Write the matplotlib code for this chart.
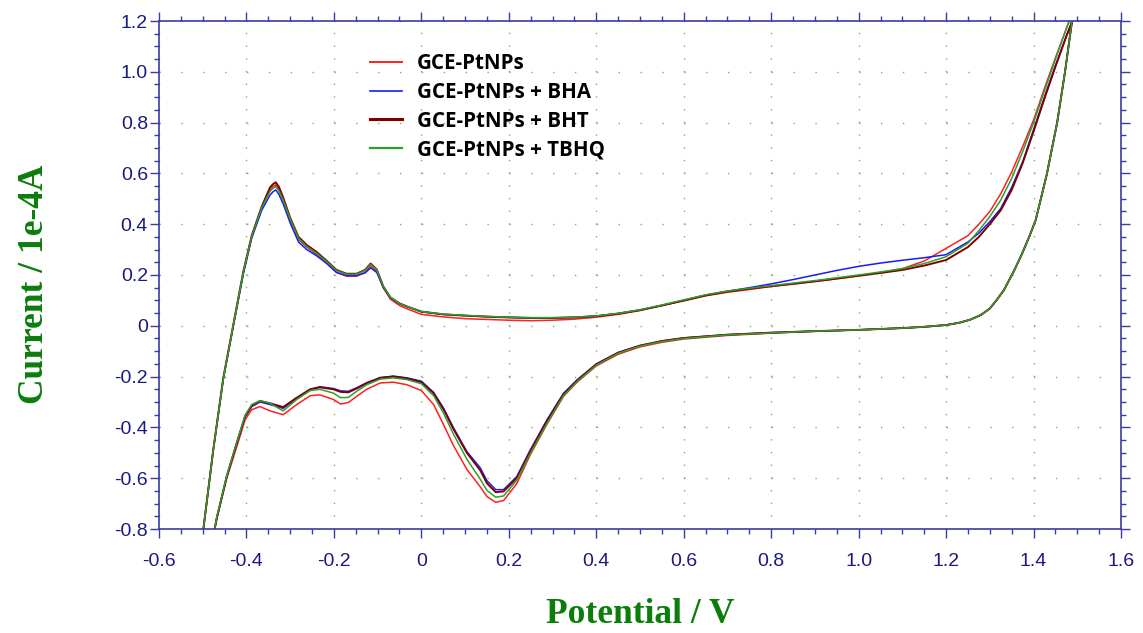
import matplotlib
matplotlib.use("Agg")
import matplotlib.pyplot as plt
import numpy as np
from matplotlib.ticker import MultipleLocator, FixedFormatter, FixedLocator

# ---------------- data ----------------
series_names = ["GCE-PtNPs", "GCE-PtNPs + BHA", "GCE-PtNPs + BHT", "GCE-PtNPs + TBHQ"]

# anodic (forward) scan potentials, V
E_anodic = [-0.500, -0.476, -0.453, -0.430, -0.407, -0.388, -0.365, -0.346, -0.339, -0.333, -0.326, -0.316,
            -0.300, -0.281, -0.262, -0.239, -0.216, -0.194, -0.171, -0.148, -0.129, -0.116,
            -0.102, -0.087, -0.071, -0.050, -0.030, 0.000, 0.050, 0.100, 0.150, 0.200,
            0.250, 0.300, 0.350, 0.400, 0.450, 0.500, 0.550, 0.600, 0.650, 0.700,
            0.750, 0.800, 0.850, 0.900, 0.950, 1.000, 1.050, 1.100, 1.150, 1.200,
            1.250, 1.275, 1.300, 1.325, 1.350, 1.375, 1.400, 1.425, 1.450, 1.475, 1.490, 1.500]

# cathodic (reverse) scan potentials, V
E_cathodic = [1.500, 1.488, 1.480, 1.472, 1.454, 1.430, 1.405, 1.390, 1.374, 1.355,
              1.332, 1.315, 1.300, 1.280, 1.255, 1.230, 1.200, 1.150, 1.100, 1.000,
              0.900, 0.800, 0.700, 0.600, 0.550, 0.500, 0.450, 0.400, 0.356, 0.325,
              0.287, 0.249, 0.218, 0.188, 0.170, 0.150, 0.135, 0.104, 0.073, 0.051,
              0.028, 0.000, -0.033, -0.064, -0.094, -0.125, -0.148, -0.167, -0.185, -0.201,
              -0.232, -0.254, -0.285, -0.316, -0.346, -0.369, -0.388, -0.403, -0.422, -0.445,
              -0.468, -0.475]

# currents, 1e-4 A
I_anodic_ptnps = [-0.82, -0.49, -0.21, 0.00, 0.21, 0.35, 0.465, 0.535, 0.548, 0.555, 0.537, 0.495,
                  0.415, 0.34, 0.31, 0.28, 0.245, 0.21, 0.195, 0.195, 0.21, 0.235,
                  0.215, 0.15, 0.105, 0.08, 0.065, 0.045, 0.035, 0.028, 0.025, 0.022,
                  0.02, 0.022, 0.026, 0.034, 0.045, 0.06, 0.08, 0.098, 0.118, 0.132,
                  0.143, 0.155, 0.165, 0.175, 0.185, 0.197, 0.21, 0.225, 0.255, 0.305,
                  0.355, 0.40, 0.45, 0.52, 0.605, 0.705, 0.81, 0.935, 1.055, 1.17, 1.235, 1.28]
I_anodic_bha = [-0.82, -0.49, -0.21, 0.00, 0.205, 0.345, 0.455, 0.515, 0.528, 0.535, 0.518, 0.48,
                0.405, 0.33, 0.30, 0.275, 0.245, 0.21, 0.198, 0.198, 0.208, 0.228,
                0.21, 0.15, 0.11, 0.088, 0.074, 0.055, 0.045, 0.04, 0.036, 0.033,
                0.031, 0.031, 0.033, 0.038, 0.048, 0.062, 0.08, 0.10, 0.12, 0.136,
                0.15, 0.165, 0.182, 0.20, 0.218, 0.234, 0.247, 0.258, 0.268, 0.28,
                0.33, 0.365, 0.41, 0.462, 0.545, 0.645, 0.772, 0.90, 1.025, 1.14, 1.205, 1.25]
I_anodic_bht = [-0.82, -0.49, -0.205, 0.005, 0.215, 0.355, 0.47, 0.545, 0.558, 0.565, 0.548, 0.505,
                0.425, 0.35, 0.318, 0.29, 0.255, 0.22, 0.205, 0.205, 0.22, 0.245,
                0.222, 0.155, 0.112, 0.088, 0.074, 0.056, 0.045, 0.04, 0.036, 0.033,
                0.031, 0.031, 0.033, 0.038, 0.048, 0.062, 0.08, 0.10, 0.12, 0.135,
                0.146, 0.156, 0.165, 0.175, 0.186, 0.197, 0.208, 0.22, 0.237, 0.259,
                0.31, 0.35, 0.40, 0.455, 0.535, 0.64, 0.765, 0.895, 1.02, 1.14, 1.205, 1.25]
I_anodic_tbhq = [-0.82, -0.49, -0.208, 0.003, 0.212, 0.352, 0.465, 0.53, 0.542, 0.548, 0.532, 0.495,
                 0.42, 0.345, 0.312, 0.285, 0.252, 0.218, 0.203, 0.203, 0.218, 0.242,
                 0.22, 0.155, 0.112, 0.088, 0.074, 0.056, 0.046, 0.041, 0.037, 0.034,
                 0.032, 0.032, 0.034, 0.039, 0.049, 0.063, 0.082, 0.102, 0.122, 0.137,
                 0.148, 0.158, 0.168, 0.178, 0.189, 0.2, 0.212, 0.225, 0.245, 0.272,
                 0.325, 0.375, 0.43, 0.495, 0.58, 0.685, 0.80, 0.925, 1.05, 1.17, 1.24, 1.28]

I_cathodic_ptnps = [1.33, 1.20, 1.10, 1.00, 0.80, 0.594, 0.417, 0.35, 0.285, 0.215,
                    0.14, 0.10, 0.068, 0.043, 0.024, 0.012, 0.003, -0.004, -0.009, -0.016,
                    -0.022, -0.029, -0.038, -0.052, -0.065, -0.083, -0.112, -0.158, -0.222, -0.278,
                    -0.388, -0.508, -0.622, -0.688, -0.695, -0.672, -0.635, -0.565, -0.47, -0.39,
                    -0.31, -0.255, -0.232, -0.222, -0.225, -0.25, -0.278, -0.302, -0.308, -0.29,
                    -0.272, -0.275, -0.31, -0.35, -0.335, -0.318, -0.33, -0.37, -0.475, -0.60,
                    -0.762, -0.82]
I_cathodic_bha = [1.33, 1.20, 1.10, 1.00, 0.80, 0.594, 0.417, 0.35, 0.285, 0.215,
                  0.14, 0.10, 0.068, 0.043, 0.024, 0.012, 0.003, -0.004, -0.009, -0.016,
                  -0.021, -0.027, -0.035, -0.048, -0.06, -0.078, -0.105, -0.15, -0.213, -0.266,
                  -0.371, -0.489, -0.594, -0.645, -0.645, -0.61, -0.56, -0.495, -0.40, -0.325,
                  -0.262, -0.218, -0.205, -0.198, -0.204, -0.224, -0.244, -0.258, -0.256, -0.247,
                  -0.24, -0.25, -0.285, -0.325, -0.31, -0.30, -0.318, -0.358, -0.463, -0.594,
                  -0.758, -0.82]
I_cathodic_bht = [1.33, 1.20, 1.10, 1.00, 0.80, 0.594, 0.417, 0.35, 0.285, 0.215,
                  0.14, 0.10, 0.068, 0.043, 0.024, 0.012, 0.003, -0.004, -0.009, -0.016,
                  -0.021, -0.027, -0.035, -0.048, -0.06, -0.078, -0.106, -0.152, -0.216, -0.27,
                  -0.376, -0.495, -0.6, -0.652, -0.655, -0.62, -0.57, -0.5, -0.405, -0.33,
                  -0.266, -0.222, -0.207, -0.2, -0.205, -0.226, -0.247, -0.262, -0.26, -0.25,
                  -0.242, -0.25, -0.283, -0.32, -0.305, -0.296, -0.314, -0.355, -0.46, -0.592,
                  -0.757, -0.82]
I_cathodic_tbhq = [1.33, 1.20, 1.10, 1.00, 0.80, 0.594, 0.417, 0.35, 0.285, 0.215,
                   0.14, 0.10, 0.068, 0.043, 0.024, 0.012, 0.003, -0.004, -0.009, -0.016,
                   -0.021, -0.028, -0.036, -0.05, -0.062, -0.08, -0.108, -0.155, -0.22, -0.275,
                   -0.385, -0.503, -0.608, -0.67, -0.675, -0.648, -0.605, -0.525, -0.425, -0.345,
                   -0.275, -0.228, -0.212, -0.205, -0.21, -0.232, -0.258, -0.282, -0.283, -0.265,
                   -0.25, -0.255, -0.29, -0.335, -0.305, -0.295, -0.31, -0.352, -0.458, -0.59,
                   -0.755, -0.82]

x_ticks = [-0.6, -0.4, -0.2, 0.0, 0.2, 0.4, 0.6, 0.8, 1.0, 1.2, 1.4, 1.6]
x_tick_labels = ["-0.6", "-0.4", "-0.2", "0", "0.2", "0.4", "0.6", "0.8", "1.0", "1.2", "1.4", "1.6"]
y_ticks = [-0.8, -0.6, -0.4, -0.2, 0.0, 0.2, 0.4, 0.6, 0.8, 1.0, 1.2]
y_tick_labels = ["-0.8", "-0.6", "-0.4", "-0.2", "0", "0.2", "0.4", "0.6", "0.8", "1.0", "1.2"]

# ---------------- style ----------------
plt.rcParams['lines.scale_dashes'] = False
colors = ["#ff2020", "#1a1aff", "#800000", "#2ca02c"]
widths = [1.1, 1.1, 1.4, 1.1]
axis_col = "#3b3ba3"
tick_lab_col = "#1a1a80"
label_col = "#0b7d0b"
grid_col = "#7db35a"

fig = plt.figure(figsize=(11.43, 6.33), dpi=100)
ax = fig.add_axes([159/1143, 1-529/633, (1121-159)/1143, (529-21)/633])

anodic = [I_anodic_ptnps, I_anodic_bha, I_anodic_bht, I_anodic_tbhq]
cathodic = [I_cathodic_ptnps, I_cathodic_bha, I_cathodic_bht, I_cathodic_tbhq]
for name, ia, ic, c, w in zip(series_names, anodic, cathodic, colors, widths):
    E = list(E_anodic) + list(E_cathodic)
    I = list(ia) + list(ic)
    ax.plot(E, I, color=c, lw=w, label=name, solid_joinstyle='round')

ax.set_xlim(-0.6, 1.6)
ax.set_ylim(-0.8, 1.2)

ax.xaxis.set_major_locator(FixedLocator(x_ticks))
ax.xaxis.set_major_formatter(FixedFormatter(x_tick_labels))
ax.yaxis.set_major_locator(FixedLocator(y_ticks))
ax.yaxis.set_major_formatter(FixedFormatter(y_tick_labels))
ax.xaxis.set_minor_locator(MultipleLocator(0.05))
ax.yaxis.set_minor_locator(MultipleLocator(0.05))

for s in ax.spines.values():
    s.set_color(axis_col)
    s.set_linewidth(1.2)

ax.tick_params(which='both', direction='out', color=axis_col, width=1.0,
               top=True, right=True, labeltop=False, labelright=False)
ax.tick_params(which='major', length=6.5)
ax.tick_params(which='minor', length=3.5)
ax.tick_params(which='major', labelsize=14, labelcolor=tick_lab_col)
ax.tick_params(axis='x', which='major', pad=11)
ax.tick_params(axis='y', which='major', pad=1.5)
for lab in ax.get_xticklabels() + ax.get_yticklabels():
    lab.set_fontfamily('Liberation Sans')

# dotted grid: dots at minor-tick spacing along major lines
px = 0.72  # points per pixel at dpi 100
xgap = 0.05 * (1121-159) / 2.2 * px
ygap = 0.05 * (529-21) / 2.0 * px
ax.xaxis.grid(True, which='major', color=grid_col, lw=1.0, linestyle=(0, (1.0, ygap-1.0)))
ax.yaxis.grid(True, which='major', color=grid_col, lw=1.0, linestyle=(0, (1.0, xgap-1.0)))
ax.set_axisbelow(True)

ax.set_xlabel("Potential / V", family='Liberation Serif', fontweight='bold',
              fontsize=25.5, color=label_col, labelpad=20)
ax.set_ylabel("Current / 1e-4A", family='Liberation Serif', fontweight='bold',
              fontsize=25.5, color=label_col)
ax.yaxis.set_label_coords(-0.112, 0.482)

leg = ax.legend(loc='upper left', bbox_to_anchor=((370-159)/962, (529-53)/508),
                frameon=False, borderpad=0, borderaxespad=0,
                handlelength=1.56, handletextpad=0.73, labelspacing=0.38,
                prop={'family': 'Open Sans', 'weight': 'bold', 'size': 14.8})
leg_widths = [1.4, 1.2, 2.2, 1.6]
for h, w in zip(leg.get_lines(), leg_widths):
    h.set_linewidth(w)

fig.savefig("out.png", dpi=100)
